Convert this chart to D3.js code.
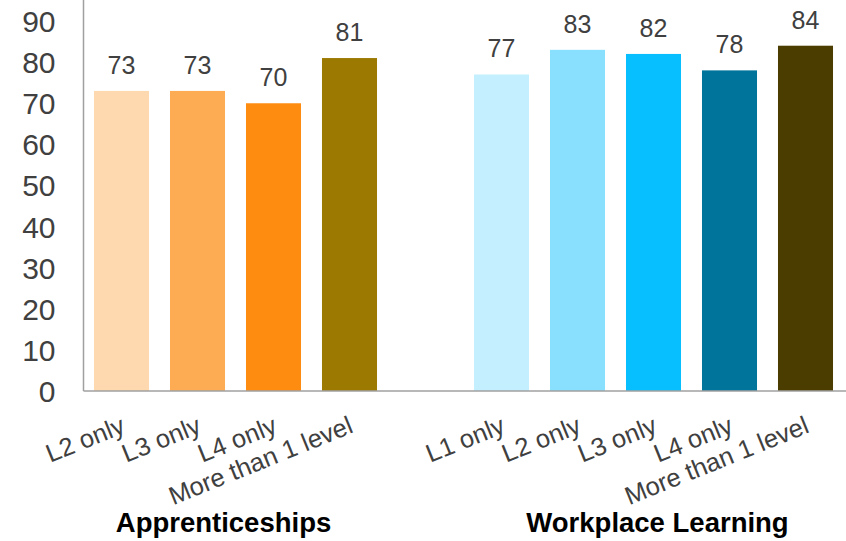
<!DOCTYPE html>
<html>
<head>
<meta charset="utf-8">
<script src="https://cdn.jsdelivr.net/npm/d3@7"></script>
<style>
  html, body { margin: 0; padding: 0; background: #fff; }
  svg { display: block; font-family: "Liberation Sans", Arial, sans-serif; }
</style>
</head>
<body>
<svg id="chart" width="846" height="541"></svg>
<script>
// Share of learners (%) by level of programme
const groups = ["Apprenticeships", "Workplace Learning"];
const apprenticeshipLevels = ["L2 only", "L3 only", "L4 only", "More than 1 level"];
const apprenticeshipValues = [73, 73, 70, 81];
const workplaceLevels = ["L1 only", "L2 only", "L3 only", "L4 only", "More than 1 level"];
const workplaceValues = [77, 83, 82, 78, 84];
const apprenticeshipColors = ["#FED8AE", "#FEAC54", "#FE8C10", "#9C7900"];
const workplaceColors = ["#C4EFFE", "#88DFFE", "#07BFFE", "#00749A", "#4B3C00"];
const yTicks = [0, 10, 20, 30, 40, 50, 60, 70, 80, 90];

const width = 846, height = 541;
const baseY = 391, axisX = 83.5, rightX = 843.5;

// One row per bar; an empty slot separates the two groups
const rows = [];
apprenticeshipLevels.forEach((lvl, i) => rows.push({
  key: "a" + i, group: 0, label: lvl, value: apprenticeshipValues[i], color: apprenticeshipColors[i]
}));
rows.push({ key: "gap", group: -1 });
workplaceLevels.forEach((lvl, i) => rows.push({
  key: "w" + i, group: 1, label: lvl, value: workplaceValues[i], color: workplaceColors[i]
}));
const bars = rows.filter(d => d.group >= 0);

const x = d3.scaleBand()
  .domain(rows.map(d => d.key))
  .range([axisX, rightX])
  .paddingInner(0.276)
  .paddingOuter(0.138);

const y = d3.scaleLinear().domain([0, 95]).range([baseY, 0.5]);

const svg = d3.select("#chart");

// Bars
svg.append("g").selectAll("rect")
  .data(bars)
  .join("rect")
  .attr("x", d => x(d.key))
  .attr("y", d => y(d.value))
  .attr("width", x.bandwidth())
  .attr("height", d => y(0) - y(d.value))
  .attr("fill", d => d.color);

// Value labels
svg.append("g").selectAll("text")
  .data(bars)
  .join("text")
  .attr("x", d => x(d.key) + x.bandwidth() / 2)
  .attr("y", d => y(d.value) - 17)
  .attr("text-anchor", "middle")
  .attr("font-size", 25)
  .attr("fill", "#404040")
  .text(d => d.value);

// Y axis
const yAxis = d3.axisLeft(y).tickValues(yTicks).tickSize(0).tickPadding(28);
const yg = svg.append("g").attr("transform", `translate(${axisX},0)`).call(yAxis);
yg.select(".domain").remove();
yg.selectAll("text")
  .attr("font-size", 30)
  .attr("font-family", "'Liberation Sans', Arial, sans-serif")
  .attr("fill", "#404040")
  .attr("dy", "0.35em");

// Axis lines
svg.append("line")
  .attr("x1", axisX).attr("x2", axisX)
  .attr("y1", 0).attr("y2", baseY)
  .attr("stroke", "#A0A0A0").attr("stroke-width", 1.5);
svg.append("line")
  .attr("x1", axisX).attr("x2", width)
  .attr("y1", baseY).attr("y2", baseY)
  .attr("stroke", "#A0A0A0").attr("stroke-width", 1.5);

// Category labels, slanted
svg.append("g").selectAll("text")
  .data(bars)
  .join("text")
  .attr("transform", d => `translate(${x(d.key) + x.bandwidth() / 2 + 5},${baseY + 41}) rotate(-22)`)
  .attr("text-anchor", "end")
  .attr("font-size", 25.5)
  .attr("fill", "#404040")
  .text(d => d.label);

// Group titles
const groupCenters = groups.map((g, gi) => {
  const keys = bars.filter(d => d.group === gi).map(d => d.key);
  return (x(keys[0]) + x(keys[keys.length - 1]) + x.bandwidth()) / 2;
});
const titleShift = [-12, 4];
svg.append("g").selectAll("text")
  .data(groups)
  .join("text")
  .attr("x", (d, i) => groupCenters[i] + titleShift[i])
  .attr("y", 532)
  .attr("text-anchor", "middle")
  .attr("font-size", 27.5)
  .attr("font-weight", "bold")
  .attr("fill", "#000")
  .text(d => d);
</script>
</body>
</html>
